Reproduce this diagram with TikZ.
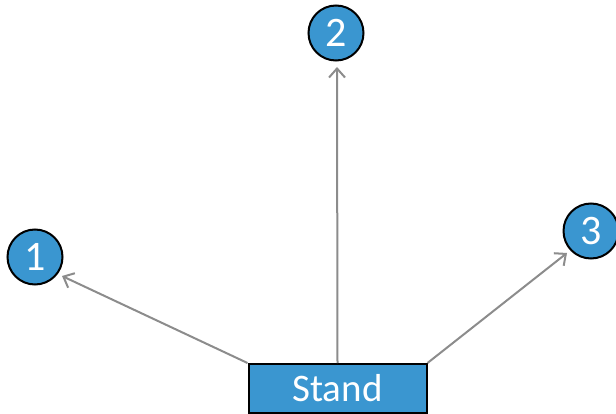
\documentclass[tikz,border=0pt]{standalone}
\usepackage{fontspec}
\setmainfont{Carlito}
\usetikzlibrary{arrows.meta}
\definecolor{bblue}{HTML}{3A96D0}
\definecolor{agray}{HTML}{8C8C8C}
\begin{document}
\begin{tikzpicture}[x=1pt,y=-1pt,
  num/.style={circle,draw=black,line width=2pt,fill=bblue,text=white,minimum size=55pt,inner sep=0pt,font=\fontsize{42}{42}\selectfont},
  standbox/.style={rectangle,draw=black,line width=2pt,fill=bblue,text=white,minimum width=178pt,minimum height=49pt,inner sep=0pt,font=\fontsize{39}{39}\selectfont},
  conn/.style={draw=agray,line width=2pt,-{Straight Barb[length=9pt,width=16pt,line width=2pt]}}]
\useasboundingbox (0,0) rectangle (616,414);
\node[num] (n1) at (35,257) {1};
\node[num] (n2) at (336,33) {2};
\node[num] (n3) at (591,231) {3};
\node[standbox] (s) at (337.5,388.5) {Stand};
\coordinate (t1) at (62,276);
\coordinate (t2) at (337,67);
\coordinate (t3) at (567,253);
\draw[conn] (s.north west) -- (t1);
\draw[conn] (s.north) -- (t2);
\draw[conn] (s.north east) -- (t3);
\end{tikzpicture}
\end{document}
